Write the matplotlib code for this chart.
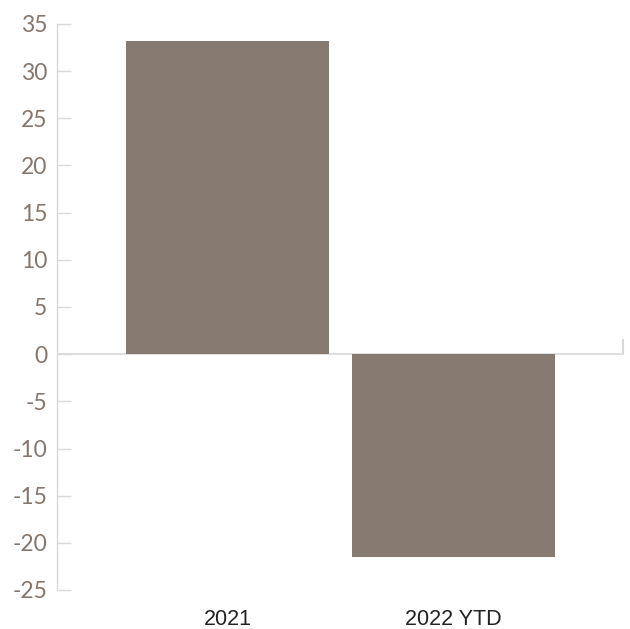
import matplotlib.pyplot as plt

categories = ['2021', '2022 YTD']
values = [33.2, -21.45]
yticks = [-25, -20, -15, -10, -5, 0, 5, 10, 15, 20, 25, 30, 35]

bar_color = '#877a70'
grid_color = '#d9d9d9'

fig = plt.figure(figsize=(6.3, 6.29), dpi=100)
ax = fig.add_axes([57/630, 39/629, 566/630, 566/629])

x = range(len(categories))
ax.bar(x, values, width=0.9, color=bar_color, zorder=2)

ax.set_xlim(-0.755, 1.75)
ax.set_ylim(-25, 35)
ax.set_yticks(yticks)
ax.set_yticklabels([str(v) for v in yticks], fontfamily='Lato', fontsize=16.5, color='#85776d')
ax.tick_params(axis='y', direction='in', length=10, width=1, color=grid_color, pad=7)

ax.set_xticks(list(x))
ax.set_xticklabels(categories, fontfamily=['Liberation Sans', 'DejaVu Sans'], fontsize=15.5, color='#222222')
ax.tick_params(axis='x', length=0, pad=14)

for s in ['top', 'right', 'bottom']:
    ax.spines[s].set_visible(False)
ax.spines['left'].set_color(grid_color)
ax.spines['left'].set_linewidth(1)

# zero line with small end mark
ax.axhline(0, color=grid_color, lw=1.2, zorder=1)
ax.axvline(ax.get_xlim()[1], ymin=25/60, ymax=25/60 + 14/566, color=grid_color, lw=1.5, clip_on=False)

fig.savefig('out.png', dpi=100)
